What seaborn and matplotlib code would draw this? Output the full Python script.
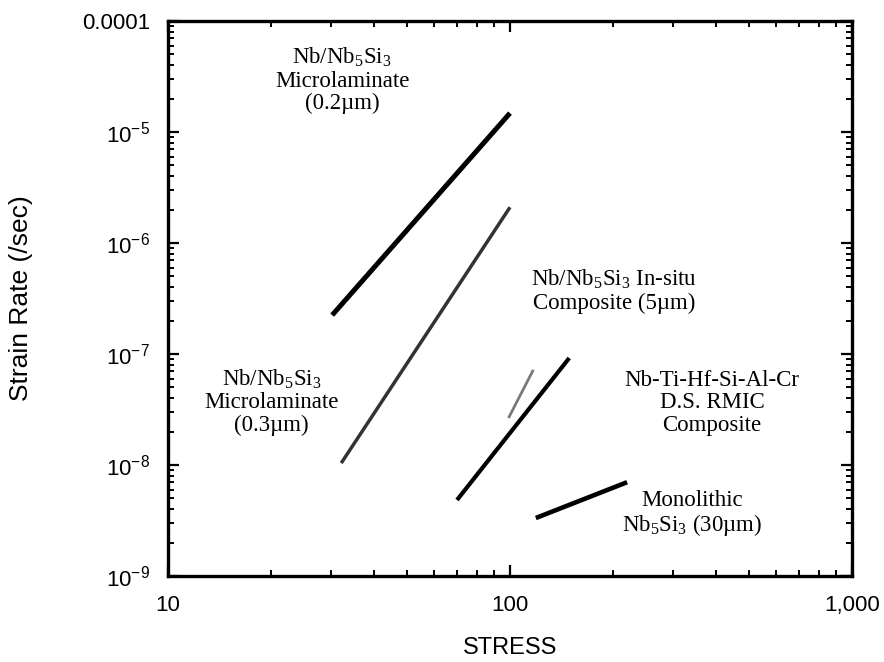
import numpy as np
import pandas as pd
import matplotlib
matplotlib.use("Agg")
import matplotlib.pyplot as plt
import seaborn as sns
from matplotlib.ticker import FixedLocator, LogLocator, NullFormatter, FixedFormatter

# ---- data ----
series = ["Microlaminate 0.2um", "Microlaminate 0.3um", "In-situ 5um",
          "D.S. RMIC", "Monolithic 30um"]
stress_start = [30.2, 32.1, 99.0, 70.0, 119.0]
stress_end = [100.0, 100.0, 117.0, 149.0, 220.0]
rate_start = [2.24e-7, 1.04e-8, 2.65e-8, 4.84e-9, 3.33e-9]
rate_end = [1.48e-5, 2.1e-6, 7.2e-8, 9.2e-8, 7.0e-9]

x_ticks = [10, 100, 1000]
x_ticklabels = ["10", "100", "1,000"]
y_ticks = [1e-9, 1e-8, 1e-7, 1e-6, 1e-5, 1e-4]
y_ticklabels = [r"$\mathregular{10^{-9}}$", r"$\mathregular{10^{-8}}$",
                r"$\mathregular{10^{-7}}$", r"$\mathregular{10^{-6}}$",
                r"$\mathregular{10^{-5}}$", "0.0001"]

df = pd.DataFrame({
    "series": np.repeat(series, 2),
    "stress": np.ravel(np.column_stack([stress_start, stress_end])),
    "rate": np.ravel(np.column_stack([rate_start, rate_end])),
})

styles = {
    "Microlaminate 0.2um": dict(color="#000000", lw=3.6),
    "Microlaminate 0.3um": dict(color="#333333", lw=2.5),
    "In-situ 5um": dict(color="#7a7a7a", lw=2.0),
    "D.S. RMIC": dict(color="#000000", lw=3.0),
    "Monolithic 30um": dict(color="#000000", lw=3.3),
}

sns.set_theme(style="white")
plt.rcParams["font.family"] = ["Liberation Sans", "DejaVu Sans"]

fig = plt.figure(figsize=(8.84, 6.62), dpi=100)
ax = fig.add_axes([168 / 884, 1 - 576 / 662, 684 / 884, 555 / 662])

for name in series:
    sub = df[df["series"] == name]
    sns.lineplot(data=sub, x="stress", y="rate", ax=ax, estimator=None,
                 sort=False, solid_capstyle="butt", **styles[name])

ax.set_xscale("log")
ax.set_yscale("log")
ax.set_xlim(10, 1000)
ax.set_ylim(1e-9, 1e-4)

ax.xaxis.set_major_locator(FixedLocator(x_ticks))
ax.xaxis.set_major_formatter(FixedFormatter(x_ticklabels))
ax.xaxis.set_minor_locator(LogLocator(base=10, subs=np.arange(2, 10)))
ax.xaxis.set_minor_formatter(NullFormatter())
ax.yaxis.set_major_locator(FixedLocator(y_ticks))
ax.yaxis.set_major_formatter(FixedFormatter(y_ticklabels))
ax.yaxis.set_minor_locator(LogLocator(base=10, subs=np.arange(2, 10)))
ax.yaxis.set_minor_formatter(NullFormatter())

ax.tick_params(which="both", direction="in", top=True, right=True,
               bottom=True, left=True, color="black")
ax.tick_params(which="major", length=8, width=1.6, labelsize=16,
               labelcolor="black")
ax.tick_params(axis="y", which="major", pad=13)
ax.tick_params(axis="x", which="major", pad=14)
ax.tick_params(which="minor", length=4, width=1.4)

for sp in ax.spines.values():
    sp.set_visible(True)
    sp.set_color("black")
    sp.set_linewidth(2.4)

ax.set_xlabel("STRESS", fontsize=17, color="black", va="top")
ax.xaxis.set_label_coords(0.5, -0.11)
ax.set_ylabel("Strain Rate (/sec)", fontsize=19, color="black")
ax.yaxis.set_label_coords(-0.197, 0.5)
ax.grid(False)
ax.set_facecolor("white")

serif = ["Liberation Serif", "DejaVu Serif"]
nb = r"Nb/Nb$\mathregular{_5}$Si$\mathregular{_3}$"
nb5 = r"Nb$\mathregular{_5}$Si$\mathregular{_3}$"
tkw = dict(ha="center", va="center", fontsize=16.5, family=serif,
           linespacing=1.1, color="black")
ax.text(32.3, 2.94e-5, nb + "\nMicrolaminate\n(0.2\u00b5m)", **tkw)
ax.text(20.1, 3.7e-8, nb + "\nMicrolaminate\n(0.3\u00b5m)", **tkw)
ax.text(201, 3.7e-7, nb + " In-situ\nComposite (5\u00b5m)", **tkw)
ax.text(390, 3.62e-8, "Nb-Ti-Hf-Si-Al-Cr\nD.S. RMIC\nComposite", **tkw)
ax.text(340, 3.62e-9, "Monolithic\n" + nb5 + " (30\u00b5m)", **tkw)

if ax.get_legend() is not None:
    ax.get_legend().remove()

fig.savefig("out.png", dpi=100, facecolor="white")
